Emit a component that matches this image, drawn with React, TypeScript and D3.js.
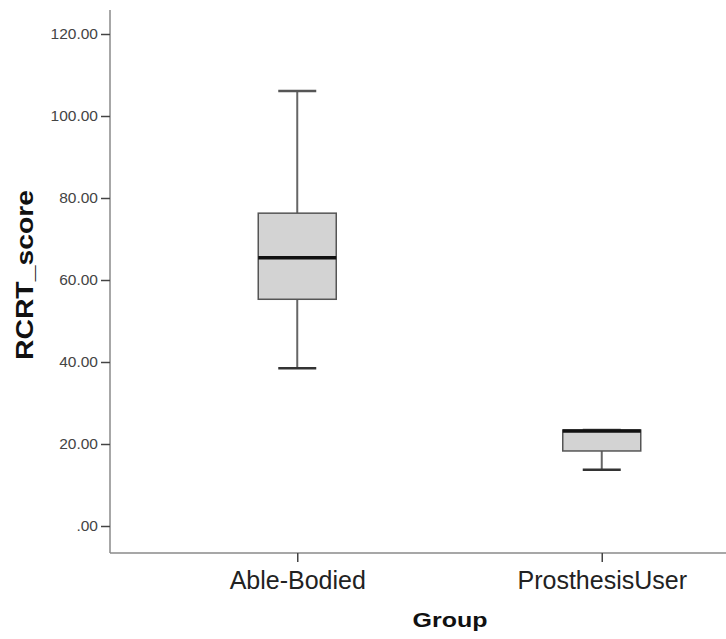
import { useRef, useEffect } from 'react';
import * as d3 from 'd3';

const GROUPS = ['Able-Bodied', 'ProsthesisUser'];
const WHISKER_LOW = [38.5, 13.7];
const Q1 = [55.3, 18.3];
const MEDIAN = [65.4, 23.2];
const Q3 = [76.3, 23.4];
const WHISKER_HIGH = [106.1, 23.4];
const Y_TICKS = [0, 20, 40, 60, 80, 100, 120];

const FONT = "'Liberation Sans', Arial, sans-serif";

export default function App() {
  const svgRef = useRef<SVGSVGElement>(null);

  useEffect(() => {
    const width = 726;
    const height = 639;
    const svg = d3.select(svgRef.current);
    svg.selectAll('*').remove();

    const left = 110;
    const axisTop = 10;
    const axisBottom = 553;

    const y = d3.scaleLinear().domain([0, 120]).range([526, 34]);
    const x = d3.scalePoint<string>().domain(GROUPS).range([145, 754]).padding(0.5);

    const stats = GROUPS.map((g, i) => ({
      group: g,
      lo: WHISKER_LOW[i],
      q1: Q1[i],
      med: MEDIAN[i],
      q3: Q3[i],
      hi: WHISKER_HIGH[i],
    }));

    const boxW = 78;
    const capW = 38;

    // axes lines
    svg.append('line')
      .attr('x1', left).attr('x2', left)
      .attr('y1', axisTop).attr('y2', axisBottom)
      .attr('stroke', '#8a8a8a').attr('stroke-width', 1.5);
    svg.append('line')
      .attr('x1', left).attr('x2', width)
      .attr('y1', axisBottom).attr('y2', axisBottom)
      .attr('stroke', '#8a8a8a').attr('stroke-width', 1.5);

    // y axis ticks
    const yAxis = d3.axisLeft(y)
      .tickValues(Y_TICKS)
      .tickSize(9)
      .tickPadding(3)
      .tickFormat((d) => (+d === 0 ? '.00' : (+d).toFixed(2)));
    const gy = svg.append('g').attr('transform', `translate(${left},0)`).call(yAxis);
    gy.select('.domain').remove();
    gy.selectAll('line').attr('stroke', '#444').attr('stroke-width', 1.5);
    gy.selectAll('text')
      .attr('fill', '#444')
      .attr('font-family', FONT)
      .attr('font-size', 15.5);

    // x axis ticks
    const xAxis = d3.axisBottom(x).tickSize(9).tickPadding(10);
    const gx = svg.append('g').attr('transform', `translate(0,${axisBottom})`).call(xAxis);
    gx.select('.domain').remove();
    gx.selectAll('line').attr('stroke', '#444').attr('stroke-width', 1.5);
    gx.selectAll('text')
      .attr('fill', '#222')
      .attr('font-family', FONT)
      .attr('font-size', 25)
      .attr('dy', '0.68em');

    // boxes
    const g = svg.append('g');
    stats.forEach((s) => {
      const cx = x(s.group)!;
      // whiskers
      g.append('line')
        .attr('x1', cx).attr('x2', cx)
        .attr('y1', y(s.q3)).attr('y2', y(s.hi))
        .attr('stroke', '#666').attr('stroke-width', 2);
      g.append('line')
        .attr('x1', cx).attr('x2', cx)
        .attr('y1', y(s.q1)).attr('y2', y(s.lo))
        .attr('stroke', '#666').attr('stroke-width', 2);
      // caps
      g.append('line')
        .attr('x1', cx - capW / 2).attr('x2', cx + capW / 2)
        .attr('y1', y(s.hi)).attr('y2', y(s.hi))
        .attr('stroke', '#555').attr('stroke-width', 2.5);
      g.append('line')
        .attr('x1', cx - capW / 2).attr('x2', cx + capW / 2)
        .attr('y1', y(s.lo)).attr('y2', y(s.lo))
        .attr('stroke', '#333').attr('stroke-width', 2.5);
      // box
      g.append('rect')
        .attr('x', cx - boxW / 2)
        .attr('width', boxW)
        .attr('y', y(s.q3))
        .attr('height', y(s.q1) - y(s.q3))
        .attr('fill', '#d3d3d3')
        .attr('stroke', '#555')
        .attr('stroke-width', 1.5);
      // median
      g.append('line')
        .attr('x1', cx - boxW / 2).attr('x2', cx + boxW / 2)
        .attr('y1', y(s.med)).attr('y2', y(s.med))
        .attr('stroke', '#111').attr('stroke-width', 3.5);
    });

    // axis titles
    svg.append('text')
      .attr('x', 450)
      .attr('y', 627)
      .attr('text-anchor', 'middle')
      .attr('font-family', FONT)
      .attr('font-weight', 'bold')
      .attr('font-size', 21)
      .attr('textLength', 75)
      .attr('lengthAdjust', 'spacingAndGlyphs')
      .attr('fill', '#111')
      .text('Group');

    svg.append('text')
      .attr('transform', `translate(33,275) rotate(-90)`)
      .attr('text-anchor', 'middle')
      .attr('font-family', FONT)
      .attr('font-weight', 'bold')
      .attr('font-size', 24)
      .attr('textLength', 170)
      .attr('lengthAdjust', 'spacingAndGlyphs')
      .attr('fill', '#111')
      .text('RCRT_score');

    svg.attr('width', width).attr('height', height);
  }, []);

  return (
    <svg
      ref={svgRef}
      width={726}
      height={639}
      style={{ position: 'absolute', left: 0, top: 0, background: '#fff' }}
    />
  );
}
